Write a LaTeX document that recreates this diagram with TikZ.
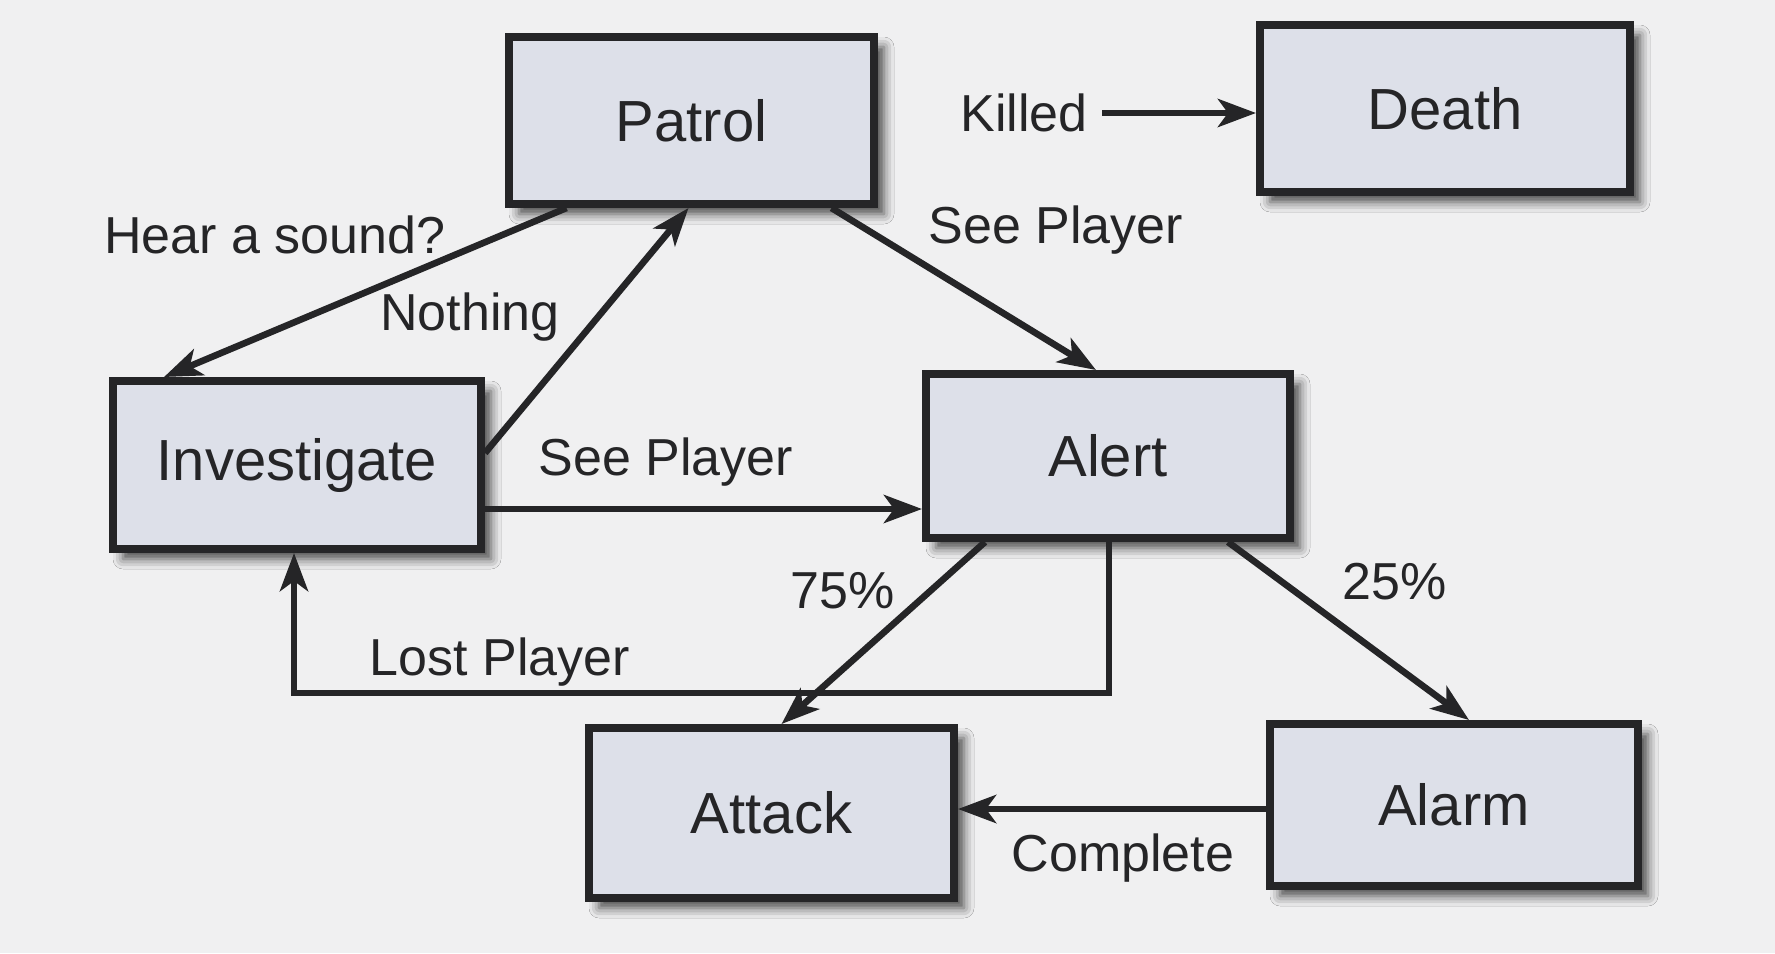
\documentclass[tikz,border=0pt]{standalone}
\usepackage{fontspec}
\setmainfont{Liberation Sans}
\usetikzlibrary{arrows.meta,shadows.blur}
\definecolor{boxfill}{HTML}{DDE0E9}
\definecolor{ink}{HTML}{252527}
\definecolor{paper}{HTML}{F0F0F1}
\tikzset{
  state/.style={draw=ink, line width=4pt, fill=boxfill, inner sep=0pt,
    font=\fontsize{29}{34}\selectfont, text=ink,
    blur shadow={shadow xshift=5pt, shadow yshift=-5pt, shadow blur radius=5pt, shadow opacity=70}},
  trans/.style={draw=ink, line width=3.3pt, -{Stealth[length=19pt,width=14pt,inset=5pt]}},
  lbl/.style={font=\fontsize{26}{30}\selectfont, text=ink, inner sep=0pt}
}
\begin{document}
\begin{tikzpicture}[x=0.5pt,y=-0.5pt]
  % page
  \fill[paper] (0,0) rectangle (1775,953);
  \useasboundingbox (0,0) rectangle (1775,953);

  % states
  \node[state, minimum width=182.5pt, minimum height=83.5pt] (patrol) at (691.5,120.5) {Patrol};
  \node[state, minimum width=185pt,   minimum height=83.5pt] (death)  at (1445,108.5) {Death};
  \node[state, minimum width=184pt,   minimum height=84pt]   (invest) at (297,465) {Investigate};
  \node[state, minimum width=182pt,   minimum height=82pt]   (alert)  at (1108,456) {Alert};
  \node[state, minimum width=182.5pt, minimum height=85pt]   (attack) at (771.5,813) {Attack};
  \node[state, minimum width=184pt,   minimum height=81pt]   (alarm)  at (1454,805) {Alarm};

  % connector end points on the box borders
  \coordinate (pA) at ([xshift=-62.5pt]patrol.south);
  \coordinate (iA) at ([xshift=-66.5pt]invest.north);
  \coordinate (iB) at ([yshift=6pt]invest.east);
  \coordinate (pB) at ([xshift=-1.5pt]patrol.south);
  \coordinate (pC) at ([xshift=70pt]patrol.south);
  \coordinate (aA) at ([xshift=-6pt]alert.north);
  \coordinate (iC) at ([yshift=-22pt]invest.east);
  \coordinate (aB) at ([yshift=-26.5pt]alert.west);
  \coordinate (aC) at ([xshift=-61.5pt]alert.south);
  \coordinate (kA) at ([xshift=5pt]attack.north);
  \coordinate (aD) at ([xshift=0.5pt]alert.south);
  \coordinate (lp) at (294,693);
  \coordinate (aE) at ([xshift=60pt]alert.south);
  \coordinate (mA) at ([xshift=7.5pt]alarm.north);
  \coordinate (mB) at ([yshift=-2pt]alarm.west);

  % transitions
  \draw[trans] (pA) -- (iA);
  \draw[trans] (iB) -- (pB);
  \draw[trans] (pC) -- (aA);
  \draw[trans] (iC) -- (aB);
  \draw[trans] (aC) -- (kA);
  \draw[trans] (aD) |- (lp) -- (invest.south -| lp);
  \draw[trans] (aE) -- (mA);
  \draw[trans] (mB) -- (mB -| attack.east);

  % Killed -> Death
  \node[lbl] (killed) at (1024,113) {Killed};
  \draw[trans] ([xshift=7pt]killed.east) -- (death.west |- killed.east);

  % transition labels
  \node[lbl] (hear)  at (275,235)  {Hear a sound?};
  \node[lbl] (noth)  at (470,317)  {Nothing};
  \node[lbl] (see1)  at (1056,230) {See Player};
  \node[lbl] (see2)  at (666,462)  {See Player};
  \node[lbl] (p75)   at (843,591)  {75\%};
  \node[lbl] (p25)   at (1395,582) {25\%};
  \node[lbl] (lost)  at (500,662)  {Lost Player};
  \node[lbl] (compl) at (1123,858) {Complete};
\end{tikzpicture}
\end{document}
